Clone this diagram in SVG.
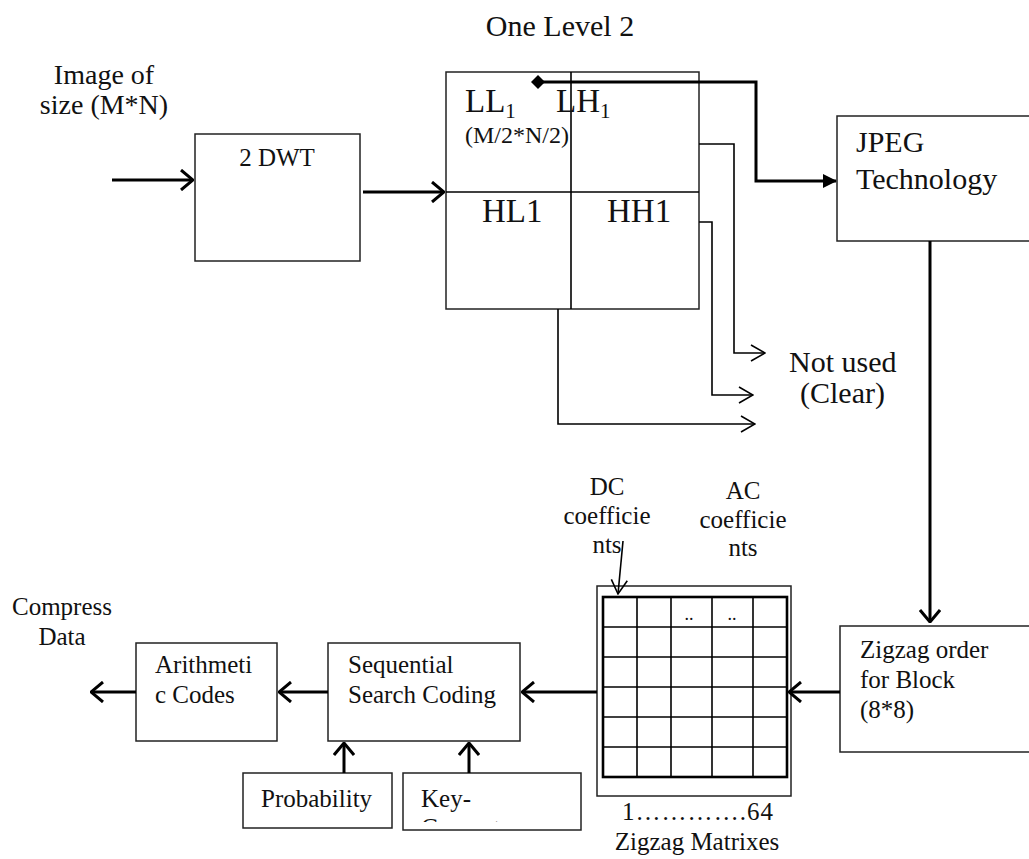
<svg xmlns="http://www.w3.org/2000/svg" width="1029" height="859" viewBox="0 0 1029 859">
<style>
text{font-family:"Liberation Serif","Times New Roman",serif;fill:#111}
.n{font-size:25px}
.l{font-size:30px}
.q{font-size:33px}
.box{fill:#fff;stroke:#222;stroke-width:1.5}
.thick{fill:none;stroke:#000;stroke-width:3}
.thin{fill:none;stroke:#000;stroke-width:1.6}
.grid{fill:none;stroke:#000;stroke-width:1.6}
</style>
<defs>
<marker id="open" viewBox="0 0 14 22" refX="13" refY="11" markerWidth="14" markerHeight="22" markerUnits="userSpaceOnUse" orient="auto">
<path d="M1,1 L13,11 L1,21" fill="none" stroke="#000" stroke-width="3"/>
</marker>
<marker id="openthin" viewBox="0 0 16 18" refX="15" refY="9" markerWidth="16" markerHeight="18" markerUnits="userSpaceOnUse" orient="auto">
<path d="M1,1 L15,9 L1,17" fill="none" stroke="#000" stroke-width="1.6"/>
</marker>
<marker id="fill" viewBox="0 0 14 14" refX="13" refY="7" markerWidth="14" markerHeight="14" markerUnits="userSpaceOnUse" orient="auto">
<path d="M0,0 L14,7 L0,14 Z" fill="#000"/>
</marker>
<clipPath id="keyclip"><rect x="404" y="774" width="176" height="48"/></clipPath>
</defs>

<g id="title"><text class="l" x="560" y="36" text-anchor="middle">One Level 2</text></g>
<g id="input-label">
<text style="font-size:28px" x="104" y="84" text-anchor="middle">Image of</text>
<text style="font-size:28px" x="104" y="114" text-anchor="middle">size (M*N)</text>
</g>

<g id="dwt">
<rect class="box" x="195" y="134" width="165" height="127"/>
<text class="n" x="277" y="166" text-anchor="middle">2 DWT</text>
</g>

<g id="subbands">
<rect class="box" x="446" y="72" width="253" height="237"/>
<line x1="571" y1="72" x2="571" y2="309" stroke="#000" stroke-width="1.6"/>
<line x1="446" y1="192" x2="699" y2="192" stroke="#000" stroke-width="1.6"/>
<text class="q" x="465" y="112">LL<tspan font-size="21" dy="6">1</tspan></text>
<text class="q" x="556" y="112">LH<tspan font-size="21" dy="6">1</tspan></text>
<text style="font-size:24px" x="465" y="143">(M/2*N/2)</text>
<text class="q" x="482" y="222">HL1</text>
<text class="q" x="607" y="222">HH1</text>
</g>

<g id="jpeg">
<rect class="box" x="837" y="116" width="200" height="125"/>
<text class="l" x="856" y="152">JPEG</text>
<text class="l" x="856" y="189">Technology</text>
</g>

<g id="notused">
<text class="l" x="789" y="372">Not used</text>
<text class="l" x="800" y="403">(Clear)</text>
</g>

<g id="zigzag">
<rect class="box" x="840" y="626" width="200" height="126"/>
<text class="n" x="860" y="658">Zigzag order</text>
<text class="n" x="860" y="688">for Block</text>
<text class="n" x="860" y="718">(8*8)</text>
</g>

<g id="matrix">
<rect class="box" x="597" y="586" width="194" height="210"/>
<g class="grid">
<line x1="637" y1="597" x2="637" y2="777"/>
<line x1="671" y1="597" x2="671" y2="777"/>
<line x1="712" y1="597" x2="712" y2="777"/>
<line x1="753" y1="597" x2="753" y2="777"/>
<line x1="603" y1="627" x2="787" y2="627"/>
<line x1="603" y1="657" x2="787" y2="657"/>
<line x1="603" y1="687" x2="787" y2="687"/>
<line x1="603" y1="717" x2="787" y2="717"/>
<line x1="603" y1="747" x2="787" y2="747"/>
</g>
<rect x="603" y="597" width="184" height="180" fill="none" stroke="#000" stroke-width="2.6"/>
<text style="font-size:18px" x="689" y="620" text-anchor="middle">..</text>
<text style="font-size:18px" x="732" y="620" text-anchor="middle">..</text>
<text class="n" x="622" y="820" textLength="151">1………….64</text>
<text class="n" x="697" y="850" text-anchor="middle">Zigzag Matrixes</text>
</g>

<g id="dc-label">
<text class="n" x="607" y="495" text-anchor="middle">DC</text>
<text class="n" x="607" y="524" text-anchor="middle">coefficie</text>
<text class="n" x="607" y="553" text-anchor="middle">nts</text>
</g>
<g id="ac-label">
<text class="n" x="743" y="499" text-anchor="middle">AC</text>
<text class="n" x="743" y="528" text-anchor="middle">coefficie</text>
<text class="n" x="743" y="556" text-anchor="middle">nts</text>
</g>

<g id="ssc">
<rect class="box" x="328" y="643" width="192" height="98"/>
<text class="n" x="348" y="673">Sequential</text>
<text class="n" x="348" y="703">Search Coding</text>
</g>

<g id="arith">
<rect class="box" x="136" y="643" width="141" height="98"/>
<text class="n" x="155" y="673">Arithmeti</text>
<text class="n" x="155" y="703">c Codes</text>
</g>

<g id="output-label">
<text class="n" x="62" y="615" text-anchor="middle">Compress</text>
<text class="n" x="62" y="645" text-anchor="middle">Data</text>
</g>

<g id="probability">
<rect class="box" x="243" y="773" width="149" height="55"/>
<text class="n" x="261" y="807">Probability</text>
</g>

<g id="key">
<rect class="box" x="403" y="773" width="178" height="57"/>
<g clip-path="url(#keyclip)">
<text class="n" x="421" y="807">Key-</text>
<text class="n" x="421" y="836">Generator</text>
</g>
</g>

<g id="connectors">
<line class="thick" x1="112" y1="180" x2="193" y2="180" marker-end="url(#open)"/>
<line class="thick" x1="363" y1="192" x2="444" y2="192" marker-end="url(#open)"/>
<path class="thick" d="M540,82 H756 V181 H836" marker-end="url(#fill)"/>
<path d="M531,82 L538,75 L545,82 L538,89 Z" fill="#000"/>
<path class="thin" d="M699,144 H734 V353 H765" marker-end="url(#openthin)"/>
<path class="thin" d="M699,222 H712 V395 H753" marker-end="url(#openthin)"/>
<path class="thin" d="M558,309 V424 H755" marker-end="url(#openthin)"/>
<line class="thick" x1="930" y1="241" x2="930" y2="622" marker-end="url(#open)"/>
<line class="thick" x1="840" y1="692" x2="789" y2="692" marker-end="url(#open)"/>
<line class="thick" x1="597" y1="692" x2="522" y2="692" marker-end="url(#open)"/>
<line class="thick" x1="328" y1="692" x2="279" y2="692" marker-end="url(#open)"/>
<line class="thick" x1="136" y1="692" x2="91" y2="692" marker-end="url(#open)"/>
<line class="thick" x1="344" y1="773" x2="344" y2="743" marker-end="url(#open)"/>
<line class="thick" x1="469" y1="773" x2="469" y2="743" marker-end="url(#open)"/>
<line class="thin" x1="623" y1="541" x2="618" y2="594" marker-end="url(#openthin)"/>
</g>
</svg>
